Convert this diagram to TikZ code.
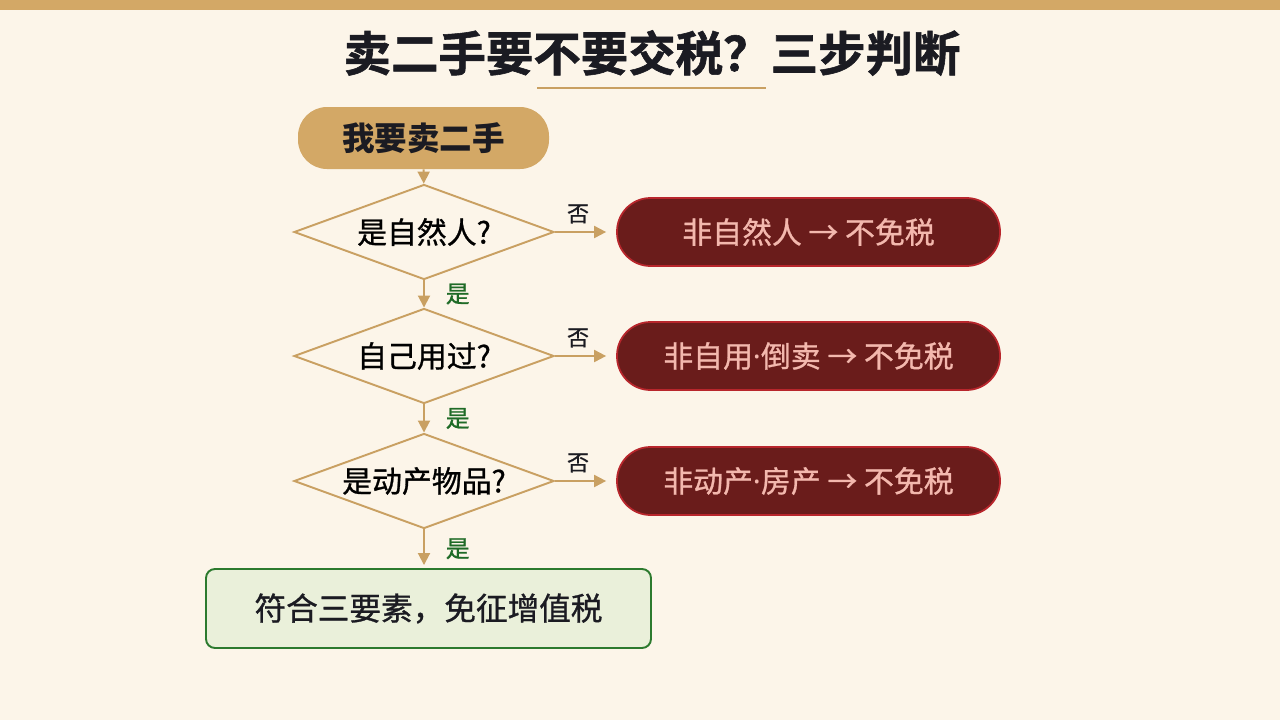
\documentclass[tikz,border=0pt]{standalone}
\usepackage{fontspec}
\setmainfont{Noto Sans CJK SC}
\newfontfamily\medfont{Noto Sans CJK SC}[FakeBold=0.9]
\newfontfamily\heavyfont{Noto Sans CJK SC Bold}[FakeBold=1.2]
\newfontfamily\latinfont{Noto Sans}
\newcommand{\mdot}{{\latinfont ·}}
\definecolor{cream}{HTML}{FCF5E9}
\definecolor{gold}{HTML}{D3A866}
\definecolor{goldline}{HTML}{C9A062}
\definecolor{ink}{HTML}{1B1B22}
\definecolor{wine}{HTML}{6A1C1B}
\definecolor{winerim}{HTML}{B8262C}
\definecolor{blush}{HTML}{F3B8AE}
\definecolor{sage}{HTML}{EAF0DA}
\definecolor{leaf}{HTML}{2C7A2E}
\definecolor{yesgreen}{HTML}{1F6B27}
\usetikzlibrary{positioning, shapes.geometric, arrows.meta}

\begin{document}
\begin{tikzpicture}[
  flow/.style={draw=goldline, line width=1.1pt, -{Triangle[length=0.24cm, width=0.24cm]}},
  ask/.style={diamond, draw=goldline, line width=1.1pt, fill=cream, aspect=2.7,
    minimum width=5.2cm, minimum height=1.9cm, inner sep=0pt, font=\medfont\fontsize{17}{20}\selectfont},
  nogo/.style={draw=winerim, line width=1pt, fill=wine, text=blush, rounded corners=0.67cm,
    minimum width=7.66cm, minimum height=1.36cm, font=\medfont\fontsize{17}{20}\selectfont},
  nolabel/.style={font=\medfont\fontsize{12.5}{14}\selectfont, text=ink},
  yeslabel/.style={font=\medfont\fontsize{13.5}{15}\selectfont, text=yesgreen}]
  \fill[cream] (0,0) rectangle (25.6,-14.4);
  \fill[gold] (0,0) rectangle (25.6,-0.2);
  \node[font=\heavyfont\fontsize{27}{30}\selectfont, text=ink] (title) at (13.04,-1.06) {卖二手要不要交税？三步判断};
  \draw[goldline, line width=1.2pt] (10.74,-1.76) -- (15.32,-1.76);
  \node[fill=gold, rounded corners=0.58cm, minimum width=5.02cm, minimum height=1.24cm,
    font=\fontsize{18.5}{21}\selectfont\bfseries, text=ink] (start) at (8.47,-2.76) {我要卖二手};
  \foreach \i/\y/\q/\r in {
    1/-4.64/是自然人?/非自然人 → 不免税,
    2/-7.12/自己用过?/非自用\mdot 倒卖 → 不免税,
    3/-9.62/是动产物品?/非动产\mdot 房产 → 不免税} {
    \node[ask] (d\i) at (8.48,\y) {\q};
    \node[nogo] (r\i) at (16.17,\y) {\r};
    \draw[flow, shorten >=0.2cm] (d\i.east) -- node[nolabel, midway, above=1pt, xshift=-0.15cm] {否} (r\i.west);
  }
  \node[draw=leaf, line width=1.1pt, fill=sage, rounded corners=0.18cm, minimum width=8.9cm,
    minimum height=1.58cm, font=\medfont\fontsize{18}{21}\selectfont, text=ink] (done) at (8.57,-12.17) {符合三要素，免征增值税};
  \draw[flow] (start) -- (d1);
  \draw[flow] (d1) -- node[yeslabel, midway, right=0.3cm] {是} (d2);
  \draw[flow] (d2) -- node[yeslabel, midway, right=0.3cm] {是} (d3);
  \draw[flow, shorten >=0.06cm] (d3) -- node[yeslabel, midway, right=0.3cm] {是} (d3 |- done.north);
\end{tikzpicture}
\end{document}
